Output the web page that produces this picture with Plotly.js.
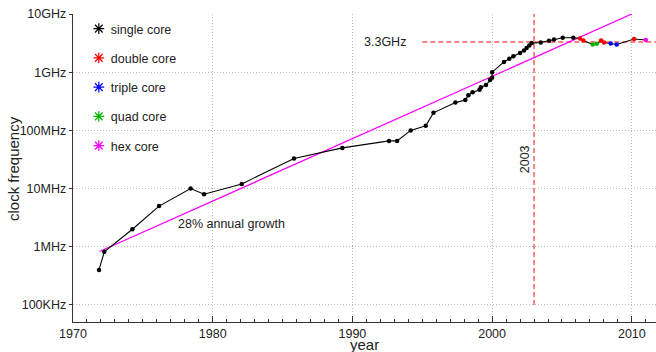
<!DOCTYPE html>
<html>
<head>
<meta charset="utf-8">
<script src="https://cdn.plot.ly/plotly-3.0.1.min.js"></script>
<style>
  html, body { margin: 0; padding: 0; background: #fff; }
  #chart { width: 656px; height: 352px; }
</style>
</head>
<body>
<div id="chart"></div>
<script>
// ---- data ----
const years = [1971.86, 1972.24, 1974.25, 1976.16, 1978.42, 1979.38, 1982.08, 1985.82, 1989.28,
  1992.62, 1993.2, 1994.17, 1995.25, 1995.8, 1997.37, 1998.08, 1998.3, 1998.6, 1999.1, 1999.2,
  1999.56, 1999.85, 2000.0, 2000.0, 2000.85, 2001.23, 2001.52, 2002.0, 2002.28, 2002.47, 2002.66,
  2002.83, 2003.48, 2004.07, 2004.43, 2005.05, 2005.81,
  2006.29, 2006.53, 2007.2, 2007.49, 2007.8, 2008.01, 2008.49, 2008.92, 2010.16, 2011.0];
const clockHz = [0.4e6, 0.82e6, 2e6, 5e6, 10e6, 8e6, 12e6, 33e6, 50e6,
  66e6, 66e6, 100e6, 120e6, 200e6, 300e6, 333e6, 400e6, 450e6, 500e6, 550e6,
  600e6, 733e6, 800e6, 1.0e9, 1.5e9, 1.7e9, 1.87e9, 2.13e9, 2.36e9, 2.6e9, 2.88e9,
  3.16e9, 3.24e9, 3.47e9, 3.66e9, 3.9e9, 3.9e9,
  3.8e9, 3.5e9, 3.0e9, 3.08e9, 3.5e9, 3.24e9, 3.12e9, 3.0e9, 3.72e9, 3.57e9];
const cores = [1,1,1,1,1,1,1,1,1,
  1,1,1,1,1,1,1,1,1,1,1,
  1,1,1,1,1,1,1,1,1,1,1,
  1,1,1,1,1,1,
  2,2,4,4,2,2,3,3,2,6];

const coreCounts = [1, 2, 3, 4, 6];
const coreNames = ['single core', 'double core', 'triple core', 'quad core', 'hex core'];
const coreColors = ['#000000', '#ff0000', '#0000ff', '#00b400', '#ff00ff'];

// trend line (28% annual growth)
const trendYears = [1971.9, 2010.0];
const trendHz = [0.83e6, 1e10];

// reference markers
const refYear = 2003;
const refClock = 3.3e9;
const refYearSpan = [1e5, 1e10];
const refClockSpan = [1995.0, 2011.8];

const yTickVals = [1e5, 1e6, 1e7, 1e8, 1e9, 1e10];
const yTickText = ['100KHz', '1MHz', '10MHz', '100MHz', '1GHz', '10GHz'];
const xTickVals = [1970, 1980, 1990, 2000, 2010];

// ---- traces ----
const FONT = 'Liberation Sans, Arial, Helvetica, sans-serif';
const traces = [];

traces.push({
  x: [refYear, refYear], y: refYearSpan, mode: 'lines', showlegend: false, hoverinfo: 'skip',
  line: {color: 'rgba(255,100,100,0.8)', width: 2, dash: '5px,3px'}
});
traces.push({
  x: refClockSpan, y: [refClock, refClock], mode: 'lines', showlegend: false, hoverinfo: 'skip',
  line: {color: 'rgba(255,100,100,0.8)', width: 2, dash: '5px,3px'}
});
traces.push({
  x: trendYears, y: trendHz, mode: 'lines', showlegend: false,
  line: {color: '#ff00ff', width: 1.3}
});
traces.push({
  x: years, y: clockHz, mode: 'lines', showlegend: false,
  line: {color: '#000000', width: 1.1}
});
coreCounts.forEach((c, i) => {
  const xs = [], ys = [];
  years.forEach((yr, k) => { if (cores[k] === c) { xs.push(yr); ys.push(clockHz[k]); } });
  traces.push({
    x: xs, y: ys, mode: 'markers', showlegend: false, cliponaxis: false,
    marker: {color: coreColors[i], size: 4.5, symbol: 'circle'}
  });
});
coreCounts.forEach((c, i) => {
  traces.push({
    x: [null], y: [null], mode: 'markers', name: coreNames[i], legendgroup: 'g' + c,
    marker: {color: coreColors[i], size: 9, symbol: 'asterisk-open', line: {color: coreColors[i], width: 1.2}}
  });
});

const layout = {
  width: 656, height: 352,
  margin: {l: 73, r: 0, t: 14.3, b: 30.3},
  paper_bgcolor: '#fff', plot_bgcolor: '#fff',
  font: {family: FONT, size: 12.5, color: '#222'},
  showlegend: true,
  legend: {
    x: 0.01, y: 1.0, xanchor: 'left', yanchor: 'top',
    bgcolor: 'rgba(0,0,0,0)', font: {family: FONT, size: 12.5, color: '#222'},
    tracegroupgap: 10, itemwidth: 30
  },
  xaxis: {
    range: [1970, 2011.73], tickvals: xTickVals, ticks: 'inside', ticklen: 6,
    tickcolor: '#333', showline: true, linecolor: '#333', linewidth: 1.3,
    showgrid: true, gridcolor: '#bdbdbd', griddash: '1px,2px', gridwidth: 1,
    zeroline: false, tickfont: {family: FONT, size: 12.5, color: '#222'},
    minor: {dtick: 1, tick0: 1970, ticks: 'inside', ticklen: 3, tickcolor: '#333', showgrid: false}
  },
  yaxis: {
    type: 'log', range: [4.707, 10], tickvals: yTickVals, ticktext: yTickText,
    ticks: 'outside', ticklen: 3, ticklabelstandoff: 0, tickcolor: '#333',
    showline: true, linecolor: '#333', linewidth: 1.3,
    showgrid: true, gridcolor: '#bdbdbd', griddash: '1px,2px', gridwidth: 1,
    zeroline: false, tickfont: {family: FONT, size: 12.5, color: '#222'}
  },
  annotations: [
    {x: 0.5, y: 0, xref: 'paper', yref: 'paper', text: 'year', showarrow: false,
     xanchor: 'center', yanchor: 'bottom', yshift: -31.8, borderpad: 0,
     font: {family: FONT, size: 15, color: '#222'}},
    {x: 0, y: 0.5, xref: 'paper', yref: 'paper', text: 'clock frequency', showarrow: false,
     textangle: -90, xanchor: 'center', yanchor: 'middle', xshift: -60, yshift: -1,
     font: {family: FONT, size: 15, color: '#222'}},
    {x: 1994.0, y: Math.log10(refClock), xref: 'x', yref: 'y', text: '3.3GHz', showarrow: false,
     xanchor: 'right', yanchor: 'middle', font: {family: FONT, size: 12.5, color: '#222'}},
    {x: 2002.36, y: Math.log10(32e6), xref: 'x', yref: 'y', text: '2003', showarrow: false,
     textangle: -90, font: {family: FONT, size: 12.5, color: '#222'}},
    {x: 1981.33, y: Math.log10(2.42e6), xref: 'x', yref: 'y', text: '28% annual growth', showarrow: false,
     font: {family: FONT, size: 12.5, color: '#222'}}
  ]
};

Plotly.newPlot('chart', traces, layout, {staticPlot: true, displayModeBar: false}).then(() => {
  // tighten the gap between legend symbol and label, as in the reference
  document.querySelectorAll('#chart .legendtext').forEach(t => t.setAttribute('x', 32));
});
</script>
</body>
</html>
